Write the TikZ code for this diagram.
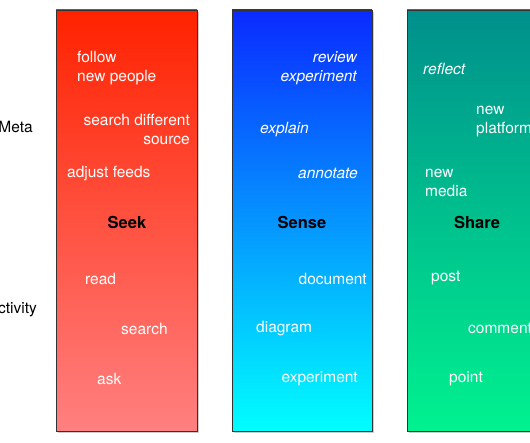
\documentclass[tikz,border=0pt]{standalone}
\usepackage{fontspec}
\setmainfont{TeX Gyre Heros}
\usetikzlibrary{positioning}
\definecolor{seektop}{HTML}{FF2200}
\definecolor{seekbot}{HTML}{FF8080}
\definecolor{sensetop}{HTML}{0A2AFF}
\definecolor{sensebot}{HTML}{00FFFF}
\definecolor{sharetop}{HTML}{008F8C}
\definecolor{sharebot}{HTML}{00F28F}
\definecolor{frame}{HTML}{333333}

\begin{document}
\begin{tikzpicture}[x=1pt,y=1pt,
  lbl/.style={inner sep=0pt,yshift=-1.5pt,text=white,font=\fontsize{15.5}{19}\selectfont},
  act/.style={lbl,font=\fontsize{15.5}{19}\selectfont\itshape},
  phase/.style={inner sep=0pt,text=black,font=\fontsize{16.5}{19}\selectfont\bfseries},
  side/.style={inner sep=0pt,yshift=-1.5pt,text=black,font=\fontsize{15.5}{19}\selectfont}]
\useasboundingbox (0,0) rectangle (530,442);\clip (0,0) rectangle (530,442);
% three columns
\fill[black!20] (58,9) rectangle (199,430);\shade[top color=seektop,bottom color=seekbot] (56,11) rectangle (197,432);\draw[frame,line width=.7pt] (56,11) rectangle (197,432);
\fill[black!20] (234,9) rectangle (374,430);\shade[top color=sensetop,bottom color=sensebot] (232,11) rectangle (372,432);\draw[frame,line width=.7pt] (232,11) rectangle (372,432);
\fill[black!20] (409,9) rectangle (542,430);\shade[top color=sharetop,bottom color=sharebot] (407,11) rectangle (540,432);\draw[frame,line width=.7pt] (407,11) rectangle (540,432);
% row labels
\node[side,anchor=east] (meta) at (33,317) {Meta};
\node[side,anchor=east] (activity) at (37,134) {Activity};
% seek
\node[lbl,anchor=west,align=left] (follow) at (77,375.5) {follow\\new people};
\node[lbl,anchor=east,align=right] (source) at (190,314.5) {search different\\source};
\node[lbl,anchor=west] (feeds) at (67,270) {adjust feeds};
\node[phase] (seek) at (127,220) {Seek};
\node[lbl,anchor=west] (read) at (85,165) {read};
\node[lbl,anchor=west] (search) at (121,115) {search};
\node[lbl,anchor=west] (ask) at (97,65) {ask};
% sense
\node[act,anchor=east,align=right] (review) at (357,375.5) {review\\experiment};
\node[act,anchor=west] (explain) at (260,314) {explain};
\node[act,anchor=east] (annotate) at (358,270) {annotate};
\node[phase] (sense) at (302,220) {Sense};
\node[lbl,anchor=east] (document) at (367,165) {document};
\node[lbl,anchor=west] (diagram) at (256,115) {diagram};
\node[lbl,anchor=east] (experiment) at (358,65) {experiment};
% share
\node[act,anchor=west] (reflect) at (423,375) {reflect};
\node[lbl,anchor=west,align=left] (platform) at (476,321.5) {new\\platform};
\node[lbl,anchor=west,align=left] (media) at (425,261) {new\\media};
\node[phase] (share) at (477,220) {Share};
\node[lbl,anchor=west] (post) at (431,165) {post};
\node[lbl,anchor=west] (comment) at (468,115) {comment};
\node[lbl,anchor=west] (point) at (449,65) {point};
\end{tikzpicture}
\end{document}
